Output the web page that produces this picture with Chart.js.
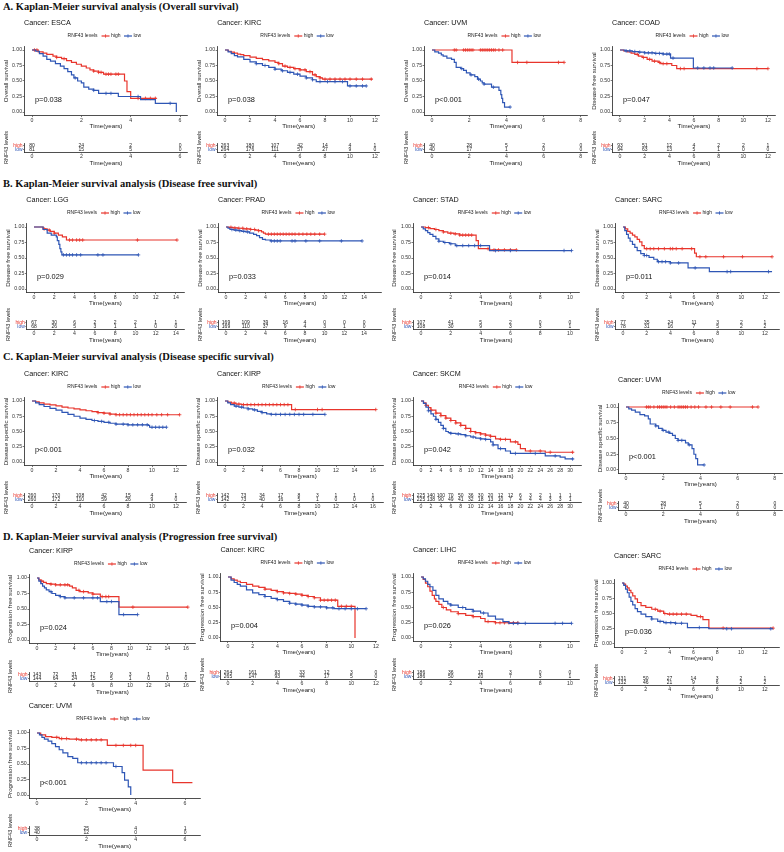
<!DOCTYPE html>
<html>
<head>
<meta charset="utf-8">
<script src="https://cdn.jsdelivr.net/npm/chart.js@4.4.0/dist/chart.umd.min.js"></script>
<style>
  body { margin: 0; background: #fff; width: 784px; height: 852px; position: relative; overflow: hidden; }
  .sec { position: absolute; left: 3px; font: bold 10.5px 'Liberation Serif', 'Times New Roman', serif; color: #111; white-space: nowrap; }
  canvas { position: absolute; }
</style>
</head>
<body>
<div class="sec" style="top:1px">A. Kaplan-Meier survival analysis (Overall survival)</div>
<div class="sec" style="top:178px">B. Kaplan-Meier survival analysis (Disease free survival)</div>
<div class="sec" style="top:351px">C. Kaplan-Meier survival analysis (Disease specific survival)</div>
<div class="sec" style="top:531px">D. Kaplan-Meier survival analysis (Progression free survival)</div>
<script>
// tick labels
var yTicks = [0, 0.25, 0.5, 0.75, 1];
var ticks6 = [0, 2, 4, 6];
var ticks8 = [0, 2, 4, 6, 8];
var ticks10 = [0, 2, 4, 6, 8, 10];
var ticks12 = [0, 2, 4, 6, 8, 10, 12];
var ticks14 = [0, 2, 4, 6, 8, 10, 12, 14];
var ticks16 = [0, 2, 4, 6, 8, 10, 12, 14, 16];
var ticks30 = [0, 2, 4, 6, 8, 10, 12, 14, 16, 18, 20, 22, 24, 26, 28, 30];

// curves: [time, survival] steps, censor times, numbers at risk
// A. ESCA OS
var escaHigh = [[0,1],[0.25,0.97],[0.45,0.95],[0.6,0.93],[0.85,0.9],[1.0,0.88],[1.2,0.86],[1.4,0.83],[1.6,0.8],[1.8,0.77],[2.0,0.74],[2.2,0.71],[2.35,0.68],[2.5,0.66],[2.7,0.64],[2.9,0.61],[3.75,0.5],[3.85,0.33],[4.0,0.22],[5.05,0.22]];
var escaHighCens = [0.1,0.2,1.0,1.3,2.5,2.7,2.8,3.0,3.1,3.2,3.4,3.5,4.3,4.6,4.8,5.0];
var escaLow = [[0,1],[0.15,0.98],[0.3,0.94],[0.45,0.9],[0.6,0.85],[0.75,0.82],[0.95,0.78],[1.15,0.74],[1.3,0.7],[1.45,0.65],[1.6,0.6],[1.7,0.55],[1.85,0.5],[2.0,0.47],[2.1,0.4],[2.3,0.37],[2.5,0.35],[2.7,0.3],[3.5,0.25],[4.4,0.2],[5.0,0.14],[5.85,0]];
var escaLowCens = [1.75,2.5,3.0,3.2,4.3,5.6];
var escaRiskHigh = [80, 24, 2, 0];
var escaRiskLow = [81, 15, 5, 0];

// A. KIRC OS
var kircOsHigh = [[0,1],[0.25,0.98],[0.5,0.965],[0.75,0.95],[1,0.935],[1.25,0.925],[1.5,0.91],[2,0.885],[2.5,0.865],[3,0.845],[3.5,0.825],[4,0.8],[4.3,0.78],[4.6,0.74],[5,0.72],[5.5,0.7],[6,0.68],[6.5,0.65],[7,0.6],[7.3,0.57],[7.6,0.55],[7.8,0.53],[11.8,0.53]];
var kircOsHighCens = [4.3,4.8,5.2,5.6,6.0,6.4,6.8,7.2,7.6,8.0,8.4,8.8,9.2,9.6,10.0,10.5,11.0,11.7];
var kircOsLow = [[0,1],[0.25,0.97],[0.5,0.94],[0.75,0.91],[1,0.89],[1.5,0.85],[2,0.81],[2.5,0.78],[3,0.75],[3.5,0.72],[4,0.69],[4.5,0.665],[5,0.64],[5.5,0.61],[6,0.58],[6.5,0.55],[7,0.52],[7.3,0.49],[9.8,0.42],[11.3,0.42]];
var kircOsLowCens = [2.5,3.2,4.0,4.6,5.2,5.8,6.5,7.0,7.6,8.2,8.8,9.4,10.0,10.5,11.0,11.3];
var kircOsRiskHigh = [263, 180, 107, 42, 14, 4, 1];
var kircOsRiskLow = [264, 176, 111, 57, 27, 9, 0];

// A. UVM OS
var uvmOsHigh = [[0,1],[4.3,0.8],[7.1,0.8]];
var uvmOsHighCens = [1.2,1.3,1.7,1.8,1.9,2.0,2.1,2.2,2.6,2.7,2.8,2.9,3.0,3.1,3.2,3.3,3.4,3.6,3.8,4.6,5.1,6.8,7.1];
var uvmOsLow = [[0,1],[0.15,0.97],[0.35,0.95],[0.5,0.92],[0.6,0.9],[0.8,0.87],[1.05,0.85],[1.2,0.8],[1.3,0.72],[1.55,0.7],[1.7,0.67],[1.85,0.63],[2.05,0.6],[2.3,0.57],[2.45,0.53],[2.6,0.5],[2.7,0.47],[2.8,0.45],[3.2,0.4],[3.6,0.35],[3.7,0.28],[3.75,0.22],[3.8,0.15],[3.9,0.08],[4.2,0.08]];
var uvmOsLowCens = [1.6,2.1,2.5,2.8,3.3,4.2];
var uvmOsRiskHigh = [40, 28, 5, 2, 0];
var uvmOsRiskLow = [40, 17, 1, 0, 0];

// A. COAD DFS
var coadHigh = [[0,1],[0.3,0.985],[0.6,0.97],[0.9,0.95],[1.2,0.93],[1.5,0.9],[1.8,0.88],[2.2,0.85],[2.6,0.82],[3.1,0.8],[3.3,0.78],[4.2,0.75],[4.6,0.7],[12.0,0.7]];
var coadHighCens = [1.4,1.9,2.4,2.8,3.2,3.5,3.8,4.9,5.2,11.1,12.0];
var coadLow = [[0,1],[0.4,0.985],[1,0.975],[1.5,0.965],[2,0.955],[2.8,0.945],[3.5,0.935],[4.1,0.87],[5.95,0.71],[9.1,0.71]];
var coadLowCens = [0.5,0.8,1.2,1.6,2.0,2.3,2.6,2.9,3.2,3.5,3.8,4.0,4.3,6.3,6.8,7.3,7.6,9.1];
var coadRiskHigh = [93, 51, 12, 4, 2, 2, 1];
var coadRiskLow = [94, 63, 13, 5, 1, 0, 0];

// B. LGG DFS
var lggHigh = [[0,1],[0.9,0.97],[1.3,0.95],[1.6,0.93],[2.0,0.9],[2.4,0.87],[2.8,0.84],[3.2,0.79],[14.1,0.79]];
var lggHighCens = [1.0,1.5,2.0,3.5,3.8,4.2,4.5,4.8,10.2,14.1];
var lggLow = [[0,1],[0.9,0.96],[1.3,0.9],[1.7,0.87],[2.2,0.84],[2.3,0.78],[2.45,0.72],[2.55,0.65],[2.65,0.6],[2.75,0.55],[10.3,0.55]];
var lggLowCens = [2.9,3.2,3.5,3.8,4.2,4.6,6.3,6.8,10.3];
var lggRiskHigh = [67, 30, 6, 2, 2, 2, 1, 1];
var lggRiskLow = [68, 26, 5, 3, 1, 1, 0, 0];

// B. PRAD DFS
var pradHigh = [[0,1],[0.3,0.995],[0.7,0.985],[1.2,0.98],[1.8,0.97],[2.5,0.96],[3.0,0.95],[3.3,0.94],[3.6,0.92],[3.8,0.9],[4.0,0.885],[10.0,0.885]];
var pradHighCens = [0.5,0.9,1.3,1.7,2.1,2.5,2.9,3.3,4.3,4.6,4.9,5.2,5.5,5.8,6.1,6.4,6.7,7.0,7.4,7.8,8.2,8.6,9.0,9.5,10.0];
var pradLow = [[0,1],[0.2,0.98],[0.4,0.96],[0.8,0.95],[1.2,0.94],[1.6,0.93],[2.0,0.92],[2.4,0.9],[2.8,0.88],[3.1,0.86],[3.4,0.83],[3.7,0.8],[4.0,0.79],[4.5,0.775],[13.8,0.775]];
var pradLowCens = [0.6,1.0,1.4,1.8,2.2,4.6,4.9,5.2,5.5,6.7,7.0,8.1,9.5,11.7,13.8];
var pradRiskHigh = [169, 109, 39, 16, 4, 0, 0, 0];
var pradRiskLow = [169, 110, 37, 9, 4, 3, 1, 0];

// B. STAD DFS
var stadHigh = [[0,1],[0.3,0.99],[0.6,0.975],[0.9,0.96],[1.2,0.94],[1.5,0.92],[1.8,0.9],[2.2,0.89],[2.6,0.87],[3.7,0.78],[3.85,0.65],[4.6,0.63],[6.4,0.63]];
var stadHighCens = [0.5,1.0,1.5,2.0,2.3,2.6,2.8,3.0,3.2,3.4,4.5,4.9,5.2,5.6,6.0,6.4];
var stadLow = [[0,1],[0.15,0.97],[0.3,0.94],[0.45,0.91],[0.6,0.88],[0.8,0.85],[1.0,0.81],[1.2,0.77],[1.5,0.75],[1.9,0.73],[2.3,0.7],[4.6,0.62],[10.1,0.62]];
var stadLowCens = [1.2,1.6,2.0,2.4,2.8,3.2,3.6,4.0,5.0,6.0,9.6,10.1];
var stadRiskHigh = [107, 41, 5, 2, 0, 0];
var stadRiskLow = [108, 30, 9, 3, 3, 1];

// B. SARC DFS
var sarcDfsHigh = [[0,1],[0.2,0.97],[0.4,0.93],[0.6,0.9],[0.8,0.87],[1.0,0.84],[1.2,0.8],[1.4,0.76],[1.6,0.7],[1.8,0.65],[6.05,0.58],[6.2,0.52],[12.6,0.52]];
var sarcDfsHighCens = [2.0,2.3,2.6,3.0,3.5,4.0,4.2,4.5,5.0,5.8,6.5,7.0,8.5,10.1,12.6];
var sarcDfsLow = [[0,1],[0.15,0.94],[0.3,0.88],[0.45,0.82],[0.6,0.77],[0.8,0.72],[1.0,0.67],[1.2,0.62],[1.5,0.57],[1.8,0.54],[2.2,0.51],[2.6,0.48],[2.9,0.44],[4.0,0.42],[5.5,0.34],[7.3,0.28],[12.6,0.28]];
var sarcDfsLowCens = [1.8,2.0,3.0,3.3,3.6,4.0,4.7,6.1,8.8,9.1,12.3];
var sarcDfsRiskHigh = [77, 35, 24, 11, 3, 2, 1];
var sarcDfsRiskLow = [78, 31, 16, 7, 5, 2, 2];

// C. KIRC DSS
var kircDssHigh = [[0,1],[0.3,0.985],[0.6,0.97],[1,0.95],[1.5,0.935],[2,0.92],[2.5,0.9],[3,0.885],[3.5,0.87],[4,0.855],[4.5,0.84],[5,0.825],[5.5,0.81],[6,0.8],[6.5,0.785],[7,0.775],[12.3,0.775]];
var kircDssHighCens = [5.5,6,6.5,7,7.3,7.6,7.9,8.2,8.5,8.8,9.1,9.4,9.7,10,10.4,10.8,11.3,12.3];
var kircDssLow = [[0,1],[0.3,0.97],[0.6,0.94],[1,0.91],[1.5,0.88],[2,0.85],[2.5,0.815],[3,0.78],[3.5,0.75],[4,0.72],[4.5,0.7],[5,0.68],[5.5,0.665],[6,0.65],[6.5,0.635],[7,0.62],[8,0.61],[9.7,0.6],[9.8,0.57],[11.2,0.57]];
var kircDssLowCens = [5.2,5.8,6.4,7.0,7.6,8.0,8.4,8.8,9.2,9.6,10.0,10.3,10.6,10.9,11.2];
var kircDssRiskHigh = [260, 170, 108, 42, 15, 4, 1];
var kircDssRiskLow = [260, 172, 110, 59, 26, 9, 0];

// C. KIRP DSS
var kirpDssHigh = [[0,1],[0.3,0.98],[0.7,0.965],[1.2,0.95],[1.8,0.94],[7.2,0.86],[16.3,0.86]];
var kirpDssHighCens = [1,1.5,2.0,2.4,2.8,3.2,3.6,4.0,4.4,4.8,5.2,5.6,6.0,6.4,6.8,7.6,10.0,10.5,16.3];
var kirpDssLow = [[0,1],[0.3,0.97],[0.6,0.94],[1.0,0.915],[1.5,0.9],[2,0.885],[2.5,0.87],[3,0.855],[3.5,0.83],[4,0.81],[4.5,0.79],[5,0.78],[10.8,0.78]];
var kirpDssLowCens = [1.2,1.8,2.5,3.2,4.0,5.0,5.5,6.0,6.5,7.0,7.5,8.0,8.5,9.5,10.8];
var kirpDssRiskHigh = [142, 73, 34, 17, 8, 3, 1, 1, 1];
var kirpDssRiskLow = [142, 73, 40, 16, 5, 1, 0, 0, 0];

// C. SKCM DSS
var skcmHigh = [[0,1],[0.5,0.97],[1,0.93],[1.5,0.89],[2,0.85],[3,0.8],[4,0.76],[5,0.72],[6,0.68],[7,0.64],[8,0.6],[9,0.55],[10,0.5],[11,0.48],[12,0.46],[13,0.44],[14,0.42],[15,0.38],[16,0.37],[18,0.33],[19.5,0.29],[20,0.22],[21,0.18],[25,0.16],[30.7,0.16]];
var skcmHighCens = [1,2,3,4,5,6,7,8,9,10,11,12,13,14,16,17,19,22,24,26,30.5];
var skcmLow = [[0,1],[0.5,0.96],[1,0.9],[1.5,0.84],[2,0.79],[2.5,0.75],[3,0.7],[3.5,0.65],[4,0.6],[4.5,0.55],[5,0.5],[5.5,0.48],[6,0.47],[7,0.46],[8,0.45],[9,0.43],[10,0.41],[11,0.39],[12,0.38],[13,0.37],[14,0.33],[14.5,0.28],[15.5,0.22],[17,0.18],[18,0.14],[25,0.1],[28,0.08],[29,0.05],[30.7,0.05]];
var skcmLowCens = [1.5,3,4.5,6,7.5,9,10.5,12,13,14.5,16,19,23,27,30.5];
var skcmRiskHigh = [225, 140, 100, 70, 50, 36, 30, 20, 12, 12, 6, 3, 2, 1, 1, 1];
var skcmRiskLow = [225, 138, 90, 49, 41, 32, 18, 13, 10, 7, 4, 4, 4, 3, 3, 1];

// C. UVM DSS
var uvmDssHigh = [[0,1],[7.1,1]];
var uvmDssHighCens = [1.1,1.2,1.3,1.5,1.7,1.8,1.9,2.0,2.1,2.2,2.4,2.6,2.8,2.9,3.0,3.1,3.2,3.3,3.5,3.7,3.9,4.3,4.6,5.1,5.6,6.8,7.1];
var uvmDssLow = [[0,1],[0.15,0.97],[0.3,0.95],[0.5,0.92],[0.75,0.88],[1.0,0.86],[1.2,0.81],[1.3,0.73],[1.6,0.7],[1.75,0.66],[1.95,0.63],[2.15,0.6],[2.35,0.58],[2.5,0.55],[2.65,0.5],[2.8,0.47],[3.2,0.43],[3.35,0.4],[3.55,0.34],[3.65,0.25],[3.75,0.18],[3.85,0.08],[4.2,0.08]];
var uvmDssLowCens = [1.6,2.0,2.3,2.8,3.0,3.4,4.2];
var uvmDssRiskHigh = [40, 28, 5, 2, 0];
var uvmDssRiskLow = [40, 17, 1, 0, 0];

// D. KIRP PFS
var kirpPfsHigh = [[0,1],[0.2,0.97],[0.4,0.95],[0.7,0.93],[1.0,0.91],[1.5,0.9],[2.0,0.89],[3.5,0.87],[3.8,0.84],[4.2,0.8],[4.6,0.78],[5.5,0.76],[6.0,0.74],[6.8,0.7],[8.8,0.53],[16.2,0.53]];
var kirpPfsHighCens = [0.5,1.5,2.0,2.5,3.0,3.3,4.5,5.0,6.0,7.0,7.4,7.7,10.3,16.2];
var kirpPfsLow = [[0,1],[0.2,0.95],[0.4,0.91],[0.6,0.87],[0.8,0.84],[1.0,0.81],[1.3,0.78],[1.6,0.75],[2.0,0.72],[2.5,0.7],[3.0,0.68],[6.8,0.62],[8.8,0.41],[10.8,0.41]];
var kirpPfsLowCens = [1.5,2.5,3.0,4.0,5.0,6.0,6.5,7.5,8.0,9.3,10.8];
var kirpPfsRiskHigh = [143, 72, 31, 17, 9, 3, 1, 1, 1];
var kirpPfsRiskLow = [144, 64, 24, 15, 5, 1, 0, 0, 0];

// D. KIRC PFS
var kircPfsHigh = [[0,1],[0.25,0.97],[0.5,0.95],[0.75,0.93],[1,0.91],[1.5,0.88],[2,0.85],[2.5,0.83],[3,0.8],[3.5,0.78],[4,0.76],[4.5,0.74],[5,0.73],[5.5,0.72],[6,0.7],[6.5,0.68],[7,0.66],[7.5,0.62],[8.9,0.52],[10.3,0]];
var kircPfsHighCens = [3,4,4.5,5,5.5,6,6.5,7,7.5,7.8,8.1,8.4,8.7,9.2,9.6,10.0];
var kircPfsLow = [[0,1],[0.25,0.95],[0.5,0.91],[0.75,0.88],[1,0.85],[1.5,0.79],[2,0.74],[2.5,0.71],[3,0.68],[3.5,0.65],[4,0.63],[4.5,0.6],[5,0.57],[5.5,0.555],[6,0.54],[6.5,0.52],[7,0.51],[8,0.495],[8.6,0.48],[11.2,0.48]];
var kircPfsLowCens = [3,4,5,5.5,6,6.5,7,7.5,8,8.5,9,9.5,10,10.5,11.2];
var kircPfsRiskHigh = [264, 161, 93, 33, 12, 3, 0];
var kircPfsRiskLow = [265, 147, 93, 44, 17, 5, 0];

// D. LIHC PFS
var lihcHigh = [[0,1],[0.15,0.96],[0.3,0.9],[0.45,0.84],[0.6,0.77],[0.75,0.7],[0.9,0.64],[1.0,0.6],[1.2,0.55],[1.4,0.5],[1.7,0.46],[2.0,0.43],[2.5,0.4],[3.0,0.37],[3.5,0.35],[4.0,0.32],[4.3,0.27],[5.0,0.25],[6.5,0.25]];
var lihcHighCens = [1.5,2.5,3.5,4.5,5.0,5.3,5.6,5.9,6.2,6.5];
var lihcLow = [[0,1],[0.15,0.97],[0.3,0.93],[0.45,0.88],[0.6,0.84],[0.8,0.78],[1.0,0.7],[1.2,0.64],[1.5,0.6],[1.8,0.56],[2.0,0.54],[2.5,0.5],[3.0,0.47],[3.5,0.44],[4.0,0.41],[4.5,0.36],[5.0,0.31],[5.5,0.27],[5.9,0.24],[10.1,0.24]];
var lihcLowCens = [2.0,2.8,3.5,4.2,6.2,6.5,7.0,9.0,9.5,10.1];
var lihcRiskHigh = [186, 36, 12, 3, 0, 0];
var lihcRiskLow = [186, 50, 20, 7, 3, 1];

// D. SARC PFS
var sarcPfsHigh = [[0,1],[0.15,0.98],[0.3,0.95],[0.45,0.92],[0.6,0.88],[0.75,0.84],[0.9,0.79],[1.1,0.74],[1.3,0.68],[1.6,0.63],[2.0,0.6],[2.5,0.57],[3.0,0.54],[3.5,0.5],[3.8,0.49],[5.8,0.47],[6.3,0.45],[6.8,0.4],[7.3,0.26],[12.7,0.26]];
var sarcPfsHighCens = [2.8,3.2,3.6,4.0,4.3,4.6,5.0,5.4,6.6,8.5,12.7];
var sarcPfsLow = [[0,1],[0.15,0.96],[0.3,0.9],[0.45,0.84],[0.6,0.77],[0.75,0.7],[0.9,0.64],[1.1,0.58],[1.3,0.53],[1.6,0.49],[2.0,0.45],[2.5,0.41],[3.0,0.37],[3.5,0.35],[4.5,0.34],[5.5,0.27],[7.3,0.25],[12.7,0.25]];
var sarcPfsLowCens = [2.5,3.2,3.7,4.1,4.5,5.0,6.5,8.8,9.2,12.5];
var sarcPfsRiskHigh = [131, 50, 27, 14, 3, 2, 1];
var sarcPfsRiskLow = [132, 46, 21, 9, 6, 2, 2];

// D. UVM PFS
var uvmPfsHigh = [[0,1],[0.15,0.97],[0.35,0.94],[0.6,0.93],[0.9,0.91],[1.3,0.9],[1.7,0.89],[2.85,0.8],[4.3,0.4],[5.5,0.2],[6.3,0.2]];
var uvmPfsHighCens = [0.8,1.0,1.2,1.6,1.8,2.0,2.2,2.4,2.6,3.2,3.5,3.8,4.0];
var uvmPfsLow = [[0,1],[0.1,0.97],[0.2,0.93],[0.3,0.9],[0.45,0.87],[0.6,0.83],[0.75,0.78],[0.9,0.73],[1.05,0.68],[1.25,0.62],[1.45,0.59],[1.65,0.52],[3.1,0.46],[3.45,0.36],[3.55,0.24],[3.7,0.13],[3.8,0]];
var uvmPfsLowCens = [1.8,2.0,2.2,2.4,2.6,2.8,3.2];
var uvmPfsRiskHigh = [38, 25, 4, 1];
var uvmPfsRiskLow = [40, 12, 0, 0];

var RED = '#E8352C', BLUE = '#2E56B5';
var FONT = "'Liberation Sans', Arial, sans-serif";
Chart.defaults.font.family = FONT;

// layout of each panel (pixel positions) + data references
var panels = [
  {name:'ESCA', ylab:'Overall survival', p:'p=0.038', xr:6, t0:32, k:24.67, y1:50, y0:112, ry:152, tk:ticks6, hi:escaHigh, hiC:escaHighCens, lo:escaLow, loC:escaLowCens, rh:escaRiskHigh, rl:escaRiskLow},
  {name:'KIRC', ylab:'Overall survival', p:'p=0.038', xr:11.8, t0:225, k:12.5, y1:50, y0:112, ry:152, tk:ticks12, hi:kircOsHigh, hiC:kircOsHighCens, lo:kircOsLow, loC:kircOsLowCens, rh:kircOsRiskHigh, rl:kircOsRiskLow},
  {name:'UVM', ylab:'Overall survival', p:'p<0.001', xr:7.95, t0:432, k:18.6, y1:50, y0:112, ry:152, tk:ticks8, hi:uvmOsHigh, hiC:uvmOsHighCens, lo:uvmOsLow, loC:uvmOsLowCens, rh:uvmOsRiskHigh, rl:uvmOsRiskLow},
  {name:'COAD', ylab:'Disease free survival', p:'p=0.047', xr:12, t0:620, k:12.33, y1:50, y0:112, ry:152, tk:ticks12, hi:coadHigh, hiC:coadHighCens, lo:coadLow, loC:coadLowCens, rh:coadRiskHigh, rl:coadRiskLow},
  {name:'LGG', ylab:'Disease free survival', p:'p=0.029', xr:14.1, t0:34, k:10.14, y1:227, y0:289, ry:329, tk:ticks14, hi:lggHigh, hiC:lggHighCens, lo:lggLow, loC:lggLowCens, rh:lggRiskHigh, rl:lggRiskLow},
  {name:'PRAD', ylab:'Disease free survival', p:'p=0.033', xr:15, t0:226, k:9.86, y1:227, y0:289, ry:329, tk:ticks14, hi:pradHigh, hiC:pradHighCens, lo:pradLow, loC:pradLowCens, rh:pradRiskHigh, rl:pradRiskLow},
  {name:'STAD', ylab:'Disease free survival', p:'p=0.014', xr:10.1, t0:421, k:14.9, y1:227, y0:289, ry:329, tk:ticks10, hi:stadHigh, hiC:stadHighCens, lo:stadLow, loC:stadLowCens, rh:stadRiskHigh, rl:stadRiskLow},
  {name:'SARC', ylab:'Disease free survival', p:'p=0.011', xr:12.6, t0:623, k:11.83, y1:227, y0:289, ry:329, tk:ticks12, hi:sarcDfsHigh, hiC:sarcDfsHighCens, lo:sarcDfsLow, loC:sarcDfsLowCens, rh:sarcDfsRiskHigh, rl:sarcDfsRiskLow},
  {name:'KIRC', ylab:'Disease specific survival', p:'p<0.001', xr:12.3, t0:32, k:12, y1:401, y0:462, ry:502, tk:ticks12, hi:kircDssHigh, hiC:kircDssHighCens, lo:kircDssLow, loC:kircDssLowCens, rh:kircDssRiskHigh, rl:kircDssRiskLow},
  {name:'KIRP', ylab:'Disease specific survival', p:'p=0.032', xr:16.3, t0:225, k:9.25, y1:401, y0:462, ry:502, tk:ticks16, hi:kirpDssHigh, hiC:kirpDssHighCens, lo:kirpDssLow, loC:kirpDssLowCens, rh:kirpDssRiskHigh, rl:kirpDssRiskLow},
  {name:'SKCM', ylab:'Disease specific survival', p:'p=0.042', xr:30.7, t0:421, k:4.97, y1:401, y0:462, ry:502, tk:ticks30, hi:skcmHigh, hiC:skcmHighCens, lo:skcmLow, loC:skcmLowCens, rh:skcmRiskHigh, rl:skcmRiskLow},
  {name:'UVM', ylab:'Disease specific survival', p:'p<0.001', xr:8, t0:626, k:18.6, y1:407, y0:470, ry:510, tk:ticks8, hi:uvmDssHigh, hiC:uvmDssHighCens, lo:uvmDssLow, loC:uvmDssLowCens, rh:uvmDssRiskHigh, rl:uvmDssRiskLow},
  {name:'KIRP', ylab:'Progression free survival', p:'p=0.024', xr:16.2, t0:37, k:9.31, y1:578, y0:640, ry:681, tk:ticks16, hi:kirpPfsHigh, hiC:kirpPfsHighCens, lo:kirpPfsLow, loC:kirpPfsLowCens, rh:kirpPfsRiskHigh, rl:kirpPfsRiskLow},
  {name:'KIRC', ylab:'Progression free survival', p:'p=0.004', xr:11.5, t0:228, k:12.33, y1:577, y0:638, ry:679, tk:ticks12, hi:kircPfsHigh, hiC:kircPfsHighCens, lo:kircPfsLow, loC:kircPfsLowCens, rh:kircPfsRiskHigh, rl:kircPfsRiskLow},
  {name:'LIHC', ylab:'Progression free survival', p:'p=0.026', xr:10.1, t0:421, k:14.9, y1:577, y0:638, ry:679, tk:ticks10, hi:lihcHigh, hiC:lihcHighCens, lo:lihcLow, loC:lihcLowCens, rh:lihcRiskHigh, rl:lihcRiskLow},
  {name:'SARC', ylab:'Progression free survival', p:'p=0.036', xr:12.6, t0:622, k:11.9, y1:583, y0:644, ry:685, tk:ticks12, hi:sarcPfsHigh, hiC:sarcPfsHighCens, lo:sarcPfsLow, loC:sarcPfsLowCens, rh:sarcPfsRiskHigh, rl:sarcPfsRiskLow},
  {name:'UVM', ylab:'Progression free survival', p:'p<0.001', xr:6.3, t0:37, k:24.67, y1:733, y0:795, ry:835, tk:ticks6, hi:uvmPfsHigh, hiC:uvmPfsHighCens, lo:uvmPfsLow, loC:uvmPfsLowCens, rh:uvmPfsRiskHigh, rl:uvmPfsRiskLow}
];

function survAt(curve, t) {
  var s = 1;
  for (var i = 0; i < curve.length; i++) if (curve[i][0] <= t) s = curve[i][1];
  return s;
}

function addCanvas(l, t, w, h) {
  var c = document.createElement('canvas');
  c.width = w; c.height = h;
  c.style.left = l + 'px'; c.style.top = t + 'px';
  document.body.appendChild(c);
  return c;
}

var axisGrid = {display: true, drawOnChartArea: false, drawTicks: true, tickLength: 2, color: '#222', lineWidth: 0.6};
var axisBorder = {display: true, color: '#222', width: 0.8};

function xScale(p, fitH) {
  return {
    type: 'linear', min: -0.05 * p.xr, max: 1.05 * p.xr,
    afterFit: function (s) { s.height = fitH; },
    afterBuildTicks: function (s) { s.ticks = p.tk.map(function (v) { return {value: v}; }); },
    ticks: {color: '#333', font: {size: 5.2}, padding: 0, maxRotation: 0, autoSkip: false, callback: function (v) { return String(v); }},
    grid: axisGrid, border: axisBorder,
    title: {display: true, text: 'Time(years)', font: {size: 6.2}, color: '#222', padding: 0}
  };
}

function drawLegend(ctx, cx, cy) {
  ctx.font = '5px ' + FONT;
  var w0 = ctx.measureText('RNF43 levels').width;
  var items = [['high', RED], ['low', BLUE]];
  var seg = 8, total = w0 + 4;
  items.forEach(function (it) { total += seg + 1.5 + ctx.measureText(it[0]).width + 3.5; });
  var x = cx - total / 2;
  ctx.textAlign = 'left'; ctx.textBaseline = 'middle';
  ctx.fillStyle = '#222';
  ctx.fillText('RNF43 levels', x, cy);
  x += w0 + 4;
  items.forEach(function (it) {
    ctx.strokeStyle = it[1]; ctx.lineWidth = 1.2;
    ctx.beginPath(); ctx.moveTo(x, cy); ctx.lineTo(x + seg, cy); ctx.stroke();
    ctx.lineWidth = 0.8; ctx.beginPath();
    ctx.moveTo(x + seg / 2, cy - 1.7); ctx.lineTo(x + seg / 2, cy + 1.7);
    ctx.stroke();
    x += seg + 1.5;
    ctx.fillStyle = '#222';
    ctx.fillText(it[0], x, cy);
    x += ctx.measureText(it[0]).width + 3.5;
  });
}

function drawKM(p) {
  var axX = p.t0 - 0.05 * p.xr * p.k, axR = p.t0 + 1.05 * p.xr * p.k;
  var h = p.y0 - p.y1, cTop = p.y1 - 0.05 * h, cBot = p.y0 + 0.05 * h;
  var L = Math.round(axX - 22), T = Math.round(p.y1 - 33);
  var W = Math.ceil(axR - L + 6), H = Math.round(p.y0 + 18 - T);
  var cv = addCanvas(L, T, W, H);
  function line(curve, color) {
    return {data: curve.map(function (d) { return {x: d[0], y: d[1]}; }), borderColor: color, borderWidth: 1.2, pointRadius: 0, stepped: true, fill: false};
  }
  function marks(curve, cens, color) {
    return {data: cens.map(function (t) { return {x: t, y: survAt(curve, t)}; }), showLine: false, pointStyle: 'cross', pointRadius: 1.8, pointBorderWidth: 0.8, pointBorderColor: color, borderColor: color};
  }
  new Chart(cv, {
    type: 'line',
    data: {datasets: [marks(p.lo, p.loC, BLUE), line(p.lo, BLUE), marks(p.hi, p.hiC, RED), line(p.hi, RED)]},
    options: {
      responsive: false, animation: false, events: [],
      layout: {padding: {top: cTop - T, left: 0, right: W - (axR - L), bottom: 0}},
      plugins: {legend: {display: false}, tooltip: {enabled: false}},
      scales: {
        x: xScale(p, H - (cBot - T)),
        y: {
          type: 'linear', min: -0.05, max: 1.05,
          afterFit: function (s) { s.width = axX - L; },
          afterBuildTicks: function (s) { s.ticks = yTicks.map(function (v) { return {value: v}; }); },
          ticks: {color: '#333', font: {size: 5.2}, padding: 0.5, callback: function (v) { return v.toFixed(2); }},
          grid: axisGrid, border: axisBorder,
          title: {display: true, text: p.ylab, font: {size: 6.2}, color: '#222', padding: 0}
        }
      }
    },
    plugins: [{
      id: 'deco',
      afterDraw: function (chart) {
        var ctx = chart.ctx, a = chart.chartArea, x = chart.scales.x, y = chart.scales.y;
        ctx.save();
        ctx.fillStyle = '#111'; ctx.textAlign = 'left'; ctx.textBaseline = 'middle';
        ctx.font = '7.2px ' + FONT;
        ctx.fillText('Cancer: ' + p.name, a.left - 0.5, y.getPixelForValue(1) - 26.5);
        drawLegend(ctx, (a.left + a.right) / 2, y.getPixelForValue(1) - 14);
        ctx.font = '7.4px ' + FONT; ctx.fillStyle = '#111';
        ctx.fillText(p.p, x.getPixelForValue(0) + 3, y.getPixelForValue(0.2));
        ctx.restore();
      }
    }]
  });
}

function drawRisk(p) {
  var axX = p.t0 - 0.05 * p.xr * p.k, axR = p.t0 + 1.05 * p.xr * p.k;
  var L = Math.round(axX - 22), T = Math.round(p.ry - 25);
  var W = Math.ceil(axR - L + 6), H = Math.round(p.ry + 15 - T);
  var cv = addCanvas(L, T, W, H);
  var xs = xScale(p, H - (p.ry - T));
  xs.grid = {display: true, drawOnChartArea: false, drawTicks: true, tickLength: 1.5, color: '#222', lineWidth: 0.6};
  new Chart(cv, {
    type: 'line',
    data: {datasets: []},
    options: {
      responsive: false, animation: false, events: [],
      layout: {padding: {top: p.ry - 9 - T, left: 0, right: W - (axR - L), bottom: 0}},
      plugins: {legend: {display: false}, tooltip: {enabled: false}},
      scales: {
        x: xs,
        y: {
          type: 'category', labels: ['high', 'low'], offset: true,
          afterFit: function (s) { s.width = axX - L; },
          ticks: {color: function (c) { return c.index === 0 ? RED : BLUE; }, font: {size: 5}, padding: 0.5, autoSkip: false},
          grid: {display: true, offset: false, drawOnChartArea: false, drawTicks: true, tickLength: 1.5, color: '#222', lineWidth: 0.6},
          border: axisBorder,
          title: {display: true, text: 'RNF43 levels', font: {size: 5.5}, color: '#222', padding: 0}
        }
      }
    },
    plugins: [{
      id: 'nums',
      afterDraw: function (chart) {
        var ctx = chart.ctx, x = chart.scales.x, y = chart.scales.y;
        ctx.save();
        ctx.font = '5px ' + FONT; ctx.fillStyle = '#222';
        ctx.textAlign = 'center'; ctx.textBaseline = 'middle';
        p.tk.forEach(function (t, i) {
          ctx.fillText(String(p.rh[i]), x.getPixelForValue(t), y.getPixelForValue(0));
          ctx.fillText(String(p.rl[i]), x.getPixelForValue(t), y.getPixelForValue(1));
        });
        ctx.restore();
      }
    }]
  });
}

panels.forEach(function (p) { drawKM(p); drawRisk(p); });
</script>
</body>
</html>
